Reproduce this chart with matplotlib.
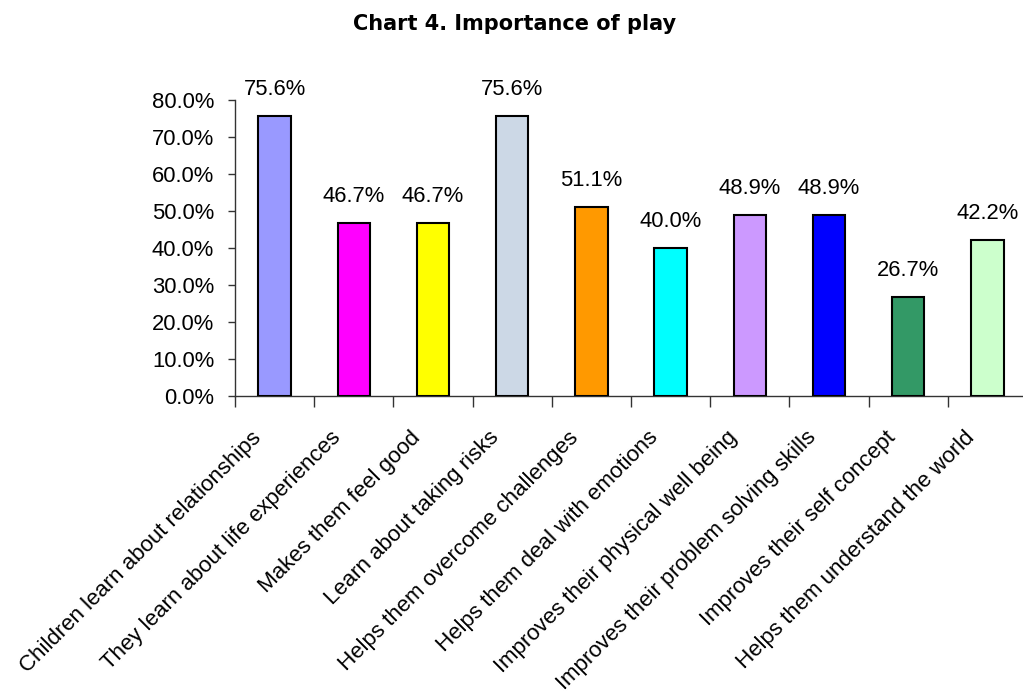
import numpy as np
import matplotlib
matplotlib.use('Agg')
import matplotlib.pyplot as plt
import matplotlib.transforms as mtransforms
from matplotlib.ticker import PercentFormatter

categories = ['Children learn about relationships',
              'They learn about life experiences',
              'Makes them feel good',
              'Learn about taking risks',
              'Helps them overcome challenges',
              'Helps them deal with emotions',
              'Improves their physical well being',
              'Improves their problem solving skills',
              'Improves their self concept',
              'Helps them understand the world']
values = [75.6, 46.7, 46.7, 75.6, 51.1, 40.0, 48.9, 48.9, 26.7, 42.2]
colors = ['#9999FF', '#FF00FF', '#FFFF00', '#CCD8E6', '#FF9900',
          '#00FFFF', '#CC99FF', '#0000FF', '#339966', '#CCFFCC']
yticks = [0, 10, 20, 30, 40, 50, 60, 70, 80]

plt.rcParams['font.family'] = ['Liberation Sans', 'DejaVu Sans']

W, H = 1023, 696
fig = plt.figure(figsize=(W / 100, H / 100), dpi=100)
ax = fig.add_axes([235 / W, 1 - 396 / H, (W - 235) / W, (396 - 100) / H])

x = np.arange(len(categories))
ax.bar(x, values, width=0.41, color=colors, edgecolor='black', linewidth=1.5, zorder=3)

# value labels above bars
for xi, v in zip(x, values):
    ax.annotate('%.1f%%' % v, (xi, v), xytext=(0, 15), textcoords='offset points',
                ha='center', va='baseline', fontsize=15.8)

ax.set_xlim(-0.5, 9.45)
ax.set_ylim(0, 80)
ax.set_yticks(yticks)
ax.yaxis.set_major_formatter(PercentFormatter(decimals=1))
ax.tick_params(axis='y', length=5, width=1, color='#333333', labelsize=15.8, pad=10)

# category labels, ticks at the boundaries
ax.set_xticks(x)
ax.set_xticklabels(categories, rotation=45, ha='right', va='center',
                   rotation_mode='anchor', fontsize=16.0)
ax.tick_params(axis='x', which='major', length=0, pad=22)
shift = mtransforms.ScaledTranslation(-16 / 100, -8 / 100, fig.dpi_scale_trans)
for lbl in ax.get_xticklabels():
    lbl.set_transform(lbl.get_transform() + shift)
ax.set_xticks(np.arange(len(categories)) - 0.5, minor=True)
ax.tick_params(axis='x', which='minor', length=8, width=1, color='#333333')

for s in ['top', 'right']:
    ax.spines[s].set_visible(False)
for s in ['left', 'bottom']:
    ax.spines[s].set_color('#333333')
    ax.spines[s].set_linewidth(1)

fig.text(515 / W, 1 - 29.5 / H, 'Chart 4. Importance of play', ha='center', va='baseline',
         fontsize=15, fontweight='bold', family='DejaVu Sans')

fig.savefig('out.png', dpi=100)
